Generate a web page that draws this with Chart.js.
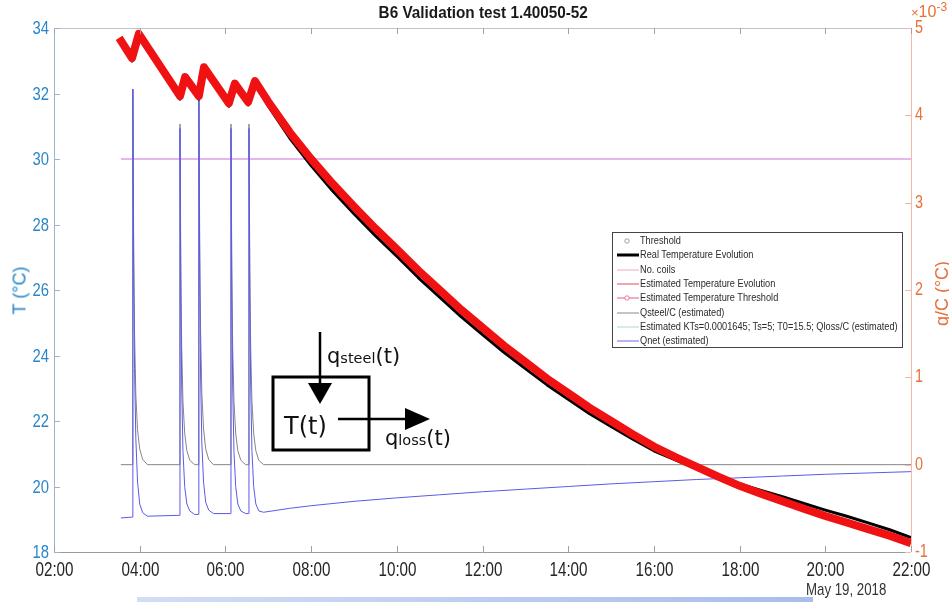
<!DOCTYPE html>
<html>
<head>
<meta charset="utf-8">
<script src="https://cdn.jsdelivr.net/npm/chart.js@4.4.1/dist/chart.umd.min.js"></script>
<style>
    html, body { margin: 0; padding: 0; background: #fff; }
    #wrap { position: relative; width: 949px; height: 602px; overflow: hidden; font-family: 'Liberation Sans', Arial, sans-serif; }
    #wrap canvas { position: absolute; left: 0; top: 0; }
    .lbl { position: absolute; white-space: nowrap; }
    .squeeze { display: inline-block; transform: scaleX(0.78); transform-origin: left center; }
    #legend { position: absolute; left: 612px; top: 232px; width: 291px; height: 116px; border: 1px solid #444; background: #fff; box-sizing: border-box; }
    #legend .row { position: absolute; left: 0; height: 14px; width: 100%; }
    #legend .txt { position: absolute; left: 27px; top: 0; font-size: 10px; line-height: 14px; color: #2a2a2a; white-space: nowrap; transform: scaleX(0.92); transform-origin: left center; }
    #legend svg { position: absolute; left: 0; top: 0; }
</style>
</head>
<body>
<div id="wrap">
    <canvas id="chart" width="949" height="602"></canvas>

    <div class="lbl" style="left:283px;top:3px;width:400px;text-align:center;font-weight:bold;font-size:17px;color:#1a1a1a;"><span style="display:inline-block;transform:scaleX(0.9);">B6 Validation test 1.40050-52</span></div>
    <div class="lbl" style="left:911px;top:0px;color:#e8703a;font-size:16px;"><span style="font-size:13px;">×</span>10<sup style="font-size:12px;">-3</sup></div>
    <div class="lbl" style="left:-20px;top:280px;width:80px;text-align:center;transform:rotate(-90deg);font-size:18px;color:#2a86c8;">T (°C)</div>
    <div class="lbl" style="left:902px;top:283px;width:80px;text-align:center;transform:rotate(-90deg);font-size:18px;color:#e8703a;">q/C (°C)</div>
    <div style="position:absolute;left:137px;top:597px;width:676px;height:5px;background:linear-gradient(to right,#d2def6,#a9bde9);"></div>
    <div class="lbl" style="left:806px;top:580px;font-size:17px;color:#333;"><span class="squeeze">May 19, 2018</span></div>

    <div id="legend"></div>

    <svg style="position:absolute;left:0;top:0;" width="949" height="602">
        <rect x="273" y="377" width="96" height="73" fill="none" stroke="#000" stroke-width="3"/>
        <line x1="320" y1="332" x2="320" y2="386" stroke="#000" stroke-width="2.5"/>
        <polygon points="308,383 332,383 320,404" fill="#000"/>
        <line x1="338" y1="419" x2="408" y2="419" stroke="#000" stroke-width="2.5"/>
        <polygon points="405,408 405,430 430,419" fill="#000"/>
        <text x="327" y="363" font-family="DejaVu Sans" fill="#111"><tspan font-size="21">q</tspan><tspan font-size="14.5">steel</tspan><tspan font-size="21">(t)</tspan></text>
        <text x="284" y="434" font-family="DejaVu Sans" font-size="24" fill="#111">T(t)</text>
        <text x="385" y="445" font-family="DejaVu Sans" fill="#111"><tspan font-size="21">q</tspan><tspan font-size="14.5">loss</tspan><tspan font-size="21">(t)</tspan></text>
    </svg>
</div>

<script>
// time axis in hours of May 19, 2018
const tempTime = [3.52, 3.82, 3.98, 4.94, 5.06, 5.38, 5.50, 6.08, 6.22, 6.53, 6.69,
    7.0, 7.5, 8.0, 8.5, 9.0, 9.5, 10.0, 10.5, 11.0, 11.5, 12.0, 12.5, 13.0, 13.5, 14.0, 14.5,
    15.0, 15.5, 16.0, 16.5, 17.0, 17.5, 18.0, 18.5, 19.0, 19.5, 20.0, 20.5, 21.0, 21.5, 22.0];
const tempEstimated = [33.70, 33.08, 33.82, 31.92, 32.50, 31.92, 32.80, 31.70, 32.30, 31.74, 32.38,
    31.75, 30.82, 30.00, 29.25, 28.55, 27.88, 27.25, 26.60, 26.00, 25.40, 24.85, 24.30, 23.80, 23.30, 22.85, 22.40,
    22.00, 21.60, 21.22, 20.90, 20.60, 20.30, 20.02, 19.78, 19.55, 19.32, 19.10, 18.90, 18.70, 18.50, 18.27];
const tempReal = [33.62, 32.99, 33.74, 31.83, 32.42, 31.83, 32.72, 31.61, 32.22, 31.65, 32.30,
    31.62, 30.64, 29.80, 29.03, 28.33, 27.66, 27.03, 26.38, 25.78, 25.19, 24.64, 24.10, 23.60, 23.11, 22.66, 22.22,
    21.83, 21.45, 21.09, 20.81, 20.55, 20.30, 20.08, 19.88, 19.69, 19.48, 19.28, 19.09, 18.89, 18.68, 18.44];

const coilTime = [3.56, 22.0];
const coilLevel = [30, 30];

// heat input / C  (x 1e-3)
const steelTime = [3.56, 3.83, 3.84, 3.86, 3.88, 3.91, 3.95, 4.00, 4.07, 4.18,
    4.93, 4.94, 4.96, 4.98, 5.01, 5.05, 5.10, 5.17, 5.28,
    5.37, 5.38, 5.40, 5.42, 5.45, 5.49, 5.54, 5.61, 5.72,
    6.12, 6.13, 6.15, 6.17, 6.20, 6.24, 6.29, 6.36, 6.47,
    6.54, 6.55, 6.57, 6.59, 6.62, 6.66, 6.71, 6.78, 6.89, 22.0];
const steelQ = [0, 0, 4.30, 2.50, 1.50, 0.80, 0.40, 0.18, 0.06, 0,
    0, 3.90, 2.25, 1.35, 0.72, 0.36, 0.16, 0.05, 0,
    0, 4.45, 2.60, 1.55, 0.82, 0.41, 0.18, 0.06, 0,
    0, 3.90, 2.25, 1.35, 0.72, 0.36, 0.16, 0.05, 0,
    0, 3.90, 2.25, 1.35, 0.72, 0.36, 0.16, 0.05, 0, 0];

const netTime = [3.56, 3.83, 3.84, 3.86, 3.88, 3.91, 3.95, 4.00, 4.07, 4.18,
    4.93, 4.94, 4.96, 4.98, 5.01, 5.05, 5.10, 5.17, 5.28,
    5.37, 5.38, 5.40, 5.42, 5.45, 5.49, 5.54, 5.61, 5.72,
    6.12, 6.13, 6.15, 6.17, 6.20, 6.24, 6.29, 6.36, 6.47,
    6.54, 6.55, 6.57, 6.59, 6.62, 6.66, 6.71, 6.78, 6.89,
    7.5, 8, 9, 10, 11, 12, 13, 14, 15, 16, 17, 18, 19, 20, 21, 22];
const netQ = [-0.61, -0.60, 4.30, 2.20, 1.10, 0.30, -0.20, -0.45, -0.55, -0.59,
    -0.58, 3.85, 1.90, 0.90, 0.15, -0.25, -0.45, -0.53, -0.57,
    -0.57, 4.40, 2.20, 1.05, 0.25, -0.20, -0.43, -0.52, -0.56,
    -0.56, 3.85, 1.90, 0.90, 0.15, -0.25, -0.45, -0.53, -0.56,
    -0.56, 3.85, 1.90, 0.90, 0.15, -0.25, -0.45, -0.53, -0.545,
    -0.50, -0.47, -0.42, -0.38, -0.345, -0.31, -0.28, -0.25, -0.22, -0.195, -0.17, -0.15, -0.13, -0.11, -0.095, -0.08];

const leftTicks = [18, 20, 22, 24, 26, 28, 30, 32, 34];
const rightTicks = [-1, 0, 1, 2, 3, 4, 5];
const hourTicks = [2, 4, 6, 8, 10, 12, 14, 16, 18, 20, 22];

const legendItems = [
    { text: 'Threshold', color: '#888', width: 0, marker: true },
    { text: 'Real Temperature Evolution', color: '#000', width: 3 },
    { text: 'No. coils', color: '#f2a6c4', width: 1 },
    { text: 'Estimated Temperature Evolution', color: '#f3a3b3', width: 2 },
    { text: 'Estimated Temperature Threshold', color: '#e2607e', width: 1, marker: true },
    { text: 'Qsteel/C (estimated)', color: '#8a8a8a', width: 1 },
    { text: 'Estimated KTs=0.0001645; Ts=5; T0=15.5; Qloss/C (estimated)', color: '#d6ecec', width: 2 },
    { text: 'Qnet (estimated)', color: '#6a6af0', width: 1 }
];

function pairs(xs, ys) {
    return xs.map((x, i) => ({ x: x, y: ys[i] }));
}

function hourLabel(v) {
    return (v < 10 ? '0' : '') + v + ':00';
}

function buildLegend() {
    const box = document.getElementById('legend');
    legendItems.forEach((item, i) => {
        const row = document.createElement('div');
        row.className = 'row';
        row.style.top = (1 + i * 14.3) + 'px';
        let svg = '<svg width="27" height="14">';
        if (item.width > 0) {
            svg += `<line x1="4" y1="7" x2="26" y2="7" stroke="${item.color}" stroke-width="${item.width}"/>`;
        }
        if (item.marker) {
            svg += `<circle cx="14" cy="7" r="2.2" fill="#fff" stroke="${item.color}" stroke-width="0.8"/>`;
        }
        svg += '</svg>';
        row.innerHTML = svg + `<span class="txt">${item.text}</span>`;
        box.appendChild(row);
    });
}

// condensed tick label, the original plot has narrow digits
function narrowText(ctx, text, x, y, align, size, color, squeeze) {
    ctx.save();
    ctx.font = size + "px 'Liberation Sans', Arial, sans-serif";
    ctx.fillStyle = color;
    ctx.textBaseline = 'middle';
    ctx.translate(x, y);
    ctx.scale(squeeze, 1);
    ctx.textAlign = align;
    ctx.fillText(text, 0, 0);
    ctx.restore();
}

// axis frame with inward ticks and labels, like the original plot
const framePlugin = {
    id: 'frame',
    afterDatasetsDraw(chart) {
        const { ctx, chartArea: a, scales } = chart;
        ctx.save();
        ctx.lineWidth = 1;
        ctx.strokeStyle = '#c4c4c4';
        ctx.beginPath(); ctx.moveTo(a.left, a.top + 0.5); ctx.lineTo(a.right, a.top + 0.5); ctx.stroke();
        ctx.strokeStyle = '#9a9a9a';
        ctx.beginPath(); ctx.moveTo(a.left, a.bottom + 0.5); ctx.lineTo(a.right, a.bottom + 0.5); ctx.stroke();
        ctx.strokeStyle = '#9fb4c8';
        ctx.beginPath(); ctx.moveTo(a.left + 0.5, a.top); ctx.lineTo(a.left + 0.5, a.bottom); ctx.stroke();
        ctx.strokeStyle = '#f5b9a6';
        ctx.beginPath(); ctx.moveTo(a.right + 0.5, a.top); ctx.lineTo(a.right + 0.5, a.bottom); ctx.stroke();

        hourTicks.forEach(h => {
            const x = Math.round(scales.x.getPixelForValue(h)) + 0.5;
            ctx.strokeStyle = '#a0a0a0';
            ctx.beginPath(); ctx.moveTo(x, a.bottom); ctx.lineTo(x, a.bottom - 6); ctx.stroke();
            ctx.beginPath(); ctx.moveTo(x, a.top); ctx.lineTo(x, a.top + 6); ctx.stroke();
            narrowText(ctx, hourLabel(h), x, a.bottom + 18, 'center', 20, '#262626', 0.76);
        });
        leftTicks.forEach(t => {
            const y = Math.round(scales.y.getPixelForValue(t)) + 0.5;
            ctx.strokeStyle = '#9fb4c8';
            ctx.beginPath(); ctx.moveTo(a.left, y); ctx.lineTo(a.left + 6, y); ctx.stroke();
            narrowText(ctx, String(t), a.left - 5, y, 'right', 19, '#2a86c8', 0.78);
        });
        rightTicks.forEach(t => {
            const y = Math.round(scales.y2.getPixelForValue(t)) + 0.5;
            ctx.strokeStyle = '#f5b9a6';
            ctx.beginPath(); ctx.moveTo(a.right, y); ctx.lineTo(a.right - 6, y); ctx.stroke();
            narrowText(ctx, String(t), a.right + 4, y, 'left', 18, '#e8703a', 0.8);
        });
        ctx.restore();
    }
};

document.addEventListener('DOMContentLoaded', function () {
    buildLegend();

    const ctx = document.getElementById('chart').getContext('2d');

    // Chart.js paints the first dataset last, so the red band goes first to sit on top
    new Chart(ctx, {
        type: 'line',
        data: {
            datasets: [
                {
                    label: 'Estimated Temperature Threshold',
                    data: pairs(tempTime, tempEstimated),
                    yAxisID: 'y',
                    borderColor: '#f01212',
                    borderWidth: 8,
                    borderJoinStyle: 'round',
                    pointRadius: 0
                },
                {
                    label: 'Real Temperature Evolution',
                    data: pairs(tempTime, tempReal),
                    yAxisID: 'y',
                    borderColor: '#000',
                    borderWidth: 3,
                    borderJoinStyle: 'round',
                    pointRadius: 0
                },
                {
                    label: 'Qnet (estimated)',
                    data: pairs(netTime, netQ),
                    yAxisID: 'y2',
                    borderColor: '#5a5ae8',
                    borderWidth: 1,
                    pointRadius: 0
                },
                {
                    label: 'Qsteel/C (estimated)',
                    data: pairs(steelTime, steelQ),
                    yAxisID: 'y2',
                    borderColor: '#858585',
                    borderWidth: 1,
                    pointRadius: 0
                },
                {
                    label: 'No. coils',
                    data: pairs(coilTime, coilLevel),
                    yAxisID: 'y',
                    borderColor: '#e39be6',
                    borderWidth: 1.5,
                    pointRadius: 0
                }
            ]
        },
        options: {
            responsive: false,
            animation: false,
            layout: { padding: { top: 28, left: 0, right: 0, bottom: 0 } },
            plugins: {
                legend: { display: false },
                title: { display: false },
                tooltip: { enabled: false }
            },
            scales: {
                x: {
                    type: 'linear',
                    min: 2,
                    max: 22,
                    afterFit: s => { s.height = 50; },
                    grid: { display: false, drawTicks: false },
                    border: { display: false },
                    ticks: { display: false }
                },
                y: {
                    position: 'left',
                    min: 18,
                    max: 34,
                    afterFit: s => { s.width = 54; },
                    grid: { display: false, drawTicks: false },
                    border: { display: false },
                    ticks: { display: false }
                },
                y2: {
                    position: 'right',
                    min: -1,
                    max: 5,
                    afterFit: s => { s.width = 38; },
                    grid: { display: false, drawTicks: false },
                    border: { display: false },
                    ticks: { display: false }
                }
            }
        },
        plugins: [framePlugin]
    });
});
</script>
</body>
</html>
